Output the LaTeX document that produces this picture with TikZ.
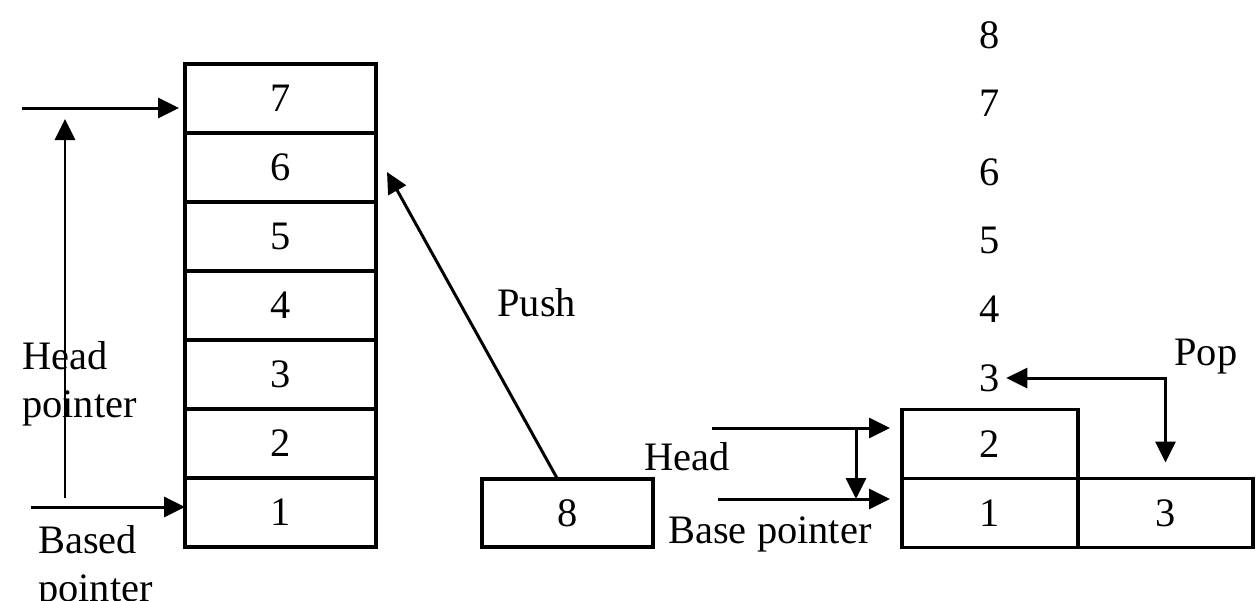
\documentclass[tikz,border=0pt]{standalone}
\usepackage{fontspec}
\setmainfont{Liberation Serif}
\usetikzlibrary{arrows.meta,positioning}
\tikzset{>={Triangle[length=0.42cm,width=0.4cm]}}
\tikzset{
	cell/.style={draw, line width=1.9pt, inner sep=0pt, outer sep=0pt, minimum width=3.82cm, minimum height=1.38cm},
	ptr/.style={->, line width=1.7pt},
	lbl/.style={anchor=base west, inner sep=0pt}
}

\begin{document}
\begin{tikzpicture}[x=0.02cm, y=-0.02cm, every node/.style={font=\fontsize{23}{27}\selectfont}]
		\useasboundingbox (0,0) rectangle (1257,600);
		% stack before push
		\node[cell] (c1) at (280.5,512.5) {1};
		\foreach \i [count=\j] in {2,...,7}
			\node[cell, above=0pt of c\j] (c\i) {\i};
		\coordinate (hp) at (22,108);
		\coordinate (bp) at (31,507);
		\coordinate (hpa) at (65,498);
		\coordinate (hpb) at (65,119);
		\draw[ptr, shorten >=0.12cm] (hp) -- (hp -| c7.west);
		\draw[ptr] (bp) -- (bp -| c1.west);
		\draw[ptr] (hpa) -- (hpb);
		\node[lbl] (head1) at (22,369) {Head};
		\node[lbl] (head2) at (22,417) {pointer};
		\node[lbl] (based1) at (38,553) {Based};
		\node[lbl] (based2) at (38,601) {pointer};
		% push
		\node[cell, minimum width=3.42cm, minimum height=1.36cm] (b8) at (567.5,513) {8};
		\coordinate (pushtip) at (387,172);
		\draw[ptr] ([xshift=-0.2cm]b8.north) -- (pushtip);
		\node[lbl] (pushlbl) at (497,316) {Push};
		% stack after pop
		\node[cell, minimum width=3.52cm] (r1) at (990,513) {1};
		\node[cell, minimum width=3.52cm, above=0pt of r1] (r2) {2};
		\node[cell, minimum width=3.5cm, right=0pt of r1] (r3) {3};
		\coordinate (mh) at (712,428);
		\coordinate (mb) at (718,499);
		\coordinate (mv) at (856,428);
		\draw[ptr, shorten >=0.24cm] (mh) -- (mh -| r2.west);
		\draw[ptr, shorten >=0.24cm] (mb) -- (mb -| r1.west);
		\draw[ptr] (mv) -- (mv |- mb);
		\node[lbl] (headmid) at (644,470) {Head};
		\node[lbl] (baselbl) at (668,543) {Base pointer};
		\foreach \n in {3,...,8}
			\node (n\n) at (990,{378-68.6*(\n-3)}) {\n};
		\draw[ptr, <->, shorten >=0.32cm] (n3.east) -| (r3.north);
		\node[lbl] (poplbl) at (1174,365) {Pop};
	\end{tikzpicture}
\end{document}
